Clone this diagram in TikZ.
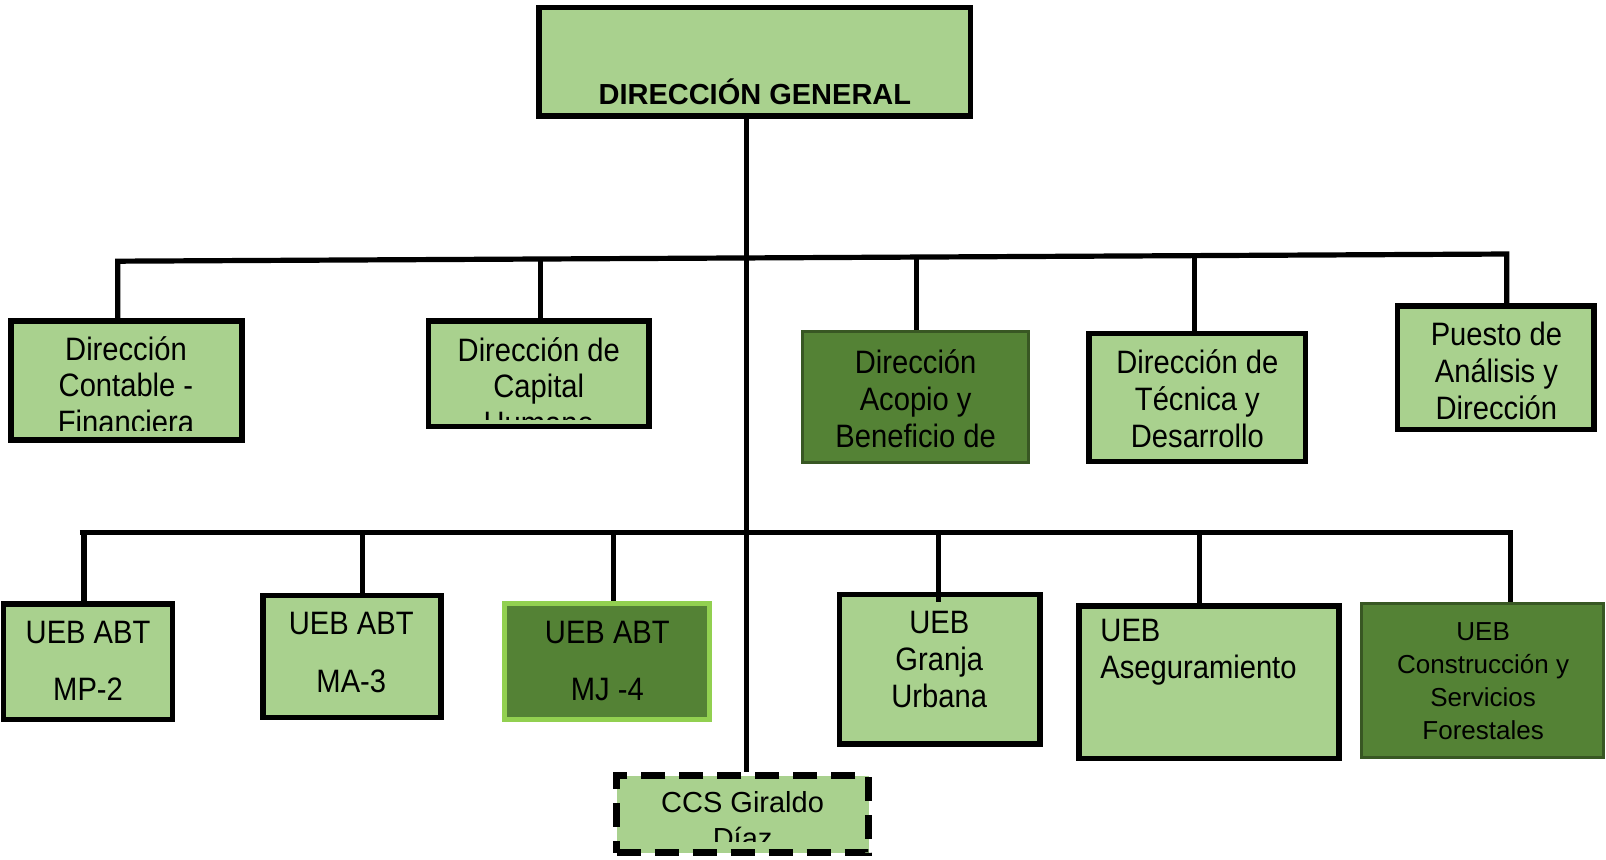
\documentclass[tikz,border=0pt]{standalone}
\usepackage{fontspec}
\setmainfont{Liberation Sans}[FakeStretch=0.9]
\newfontfamily\topfont{Liberation Sans}
\usetikzlibrary{fit,calc}
\definecolor{lgreen}{HTML}{A9D18E}
\definecolor{dgreen}{HTML}{548235}
\definecolor{dborder}{HTML}{385723}
\definecolor{bgreen}{HTML}{92D050}
\begin{document}
\begin{tikzpicture}[x=0.5121pt,y=-0.5121pt,
  box/.style={draw=black, line width=2.8pt, fill=lgreen, inner sep=0pt},
  dbox/.style={draw=dborder, line width=1.6pt, fill=dgreen, inner sep=0pt},
  hbox/.style={draw=bgreen, line width=2.6pt, fill=dgreen, inner sep=0pt},
  cbox/.style={draw=black, line width=3.4pt, fill=lgreen, inner sep=0pt, dash pattern=on 12pt off 7pt},
  link/.style={line width=2.6pt, draw=black},
  txt/.style={font=\fontsize{16.2pt}{18.4pt}\selectfont, align=center, inner sep=0pt},
]
\useasboundingbox (0,0) rectangle (1568,839);

% boxes
\node[box, fit={(526.5,7.5) (947.5,113.5)}] (top) {};
\node[box, fit={(10.5,313.5) (236.5,429.5)}] (A) {};
\node[box, fit={(418.5,313.5) (633.5,416.5)}] (B) {};
\node[dbox, fit={(783.5,323.5) (1004.5,451.5)}] (C) {};
\node[box, fit={(1063.5,325.5) (1274.5,450.5)}] (D) {};
\node[box, fit={(1364.5,298.5) (1556.5,419.5)}] (E) {};
\node[box, fit={(3.5,589.5) (168.5,702.5)}] (F) {};
\node[box, fit={(256.5,581.5) (430.5,700.5)}] (G) {};
\node[hbox, fit={(492.5,589.5) (692.5,702.5)}] (H) {};
\node[box, fit={(819.5,580.5) (1015.5,726.5)}] (I) {};
\node[box, fit={(1053.5,591.5) (1307.5,740.5)}] (J) {};
\node[dbox, fit={(1329.5,589.5) (1565.5,739.5)}] (K) {};
\node[cbox, fit={(602,757.5) (848,832.5)}] (L) {};

% texts
\node[anchor=base, inner sep=0pt, font=\topfont\bfseries\fontsize{14.5pt}{17pt}\selectfont] (tt) at (737,102) {DIRECCIÓN GENERAL};
\begin{scope}
  \clip (12,315) rectangle (235,420);
  \node[txt] (tA) at (123,376) {Dirección\\Contable -\\Financiera};
\end{scope}
\begin{scope}
  \clip (420,315) rectangle (632,410);
  \node[txt] (tB) at (526,377) {Dirección de\\Capital\\Humano};
\end{scope}
\node[txt] (tC) at (894,389) {Dirección\\Acopio y\\Beneficio de};
\node[txt] (tD) at (1169,389) {Dirección de\\Técnica y\\Desarrollo};
\node[txt] (tE) at (1461,362) {Puesto de\\Análisis y\\Dirección};
\node[txt] (tF) at (86,645) {UEB ABT\\[10.2pt]MP-2};
\node[txt] (tG) at (343,637) {UEB ABT\\[10.2pt]MA-3};
\node[txt] (tH) at (593,645) {UEB ABT\\[10.2pt]MJ -4};
\node[txt] (tI) at (917,644) {UEB\\Granja\\Urbana};
\node[txt, align=left, anchor=west] (tJ) at (1074,637) {UEB\\Aseguramiento};
\node[txt, font=\topfont\fontsize{13pt}{16.4pt}\selectfont] (tK) at (1448,665) {UEB\\Construcción y\\Servicios\\Forestales};
\begin{scope}
  \clip (604,760) rectangle (846,822);
  \node[txt, font=\topfont\fontsize{14.5pt}{18pt}\selectfont] (tL) at (725,801) {CCS Giraldo\\Díaz};
\end{scope}

% connectors
\coordinate (h2L) at (115,255);
\coordinate (h2R) at (1471,248);
\coordinate (m) at (729,300);
\path (h2L) -- (h2R)
  coordinate[pos=0.3046] (dB)
  coordinate[pos=0.5752] (dC)
  coordinate[pos=0.7751] (dD);
\draw[link] (A.north -| h2L) -- (h2L) -- (h2R) -- (E.north -| h2R);
\draw[link] (dB) -- (B.north -| dB);
\draw[link] (dC) -- (C.north -| dC);
\draw[link] (dD) -- (D.north -| dD);
\draw[link] (top.south -| m) -- (L.north -| m);

\coordinate (h3L) at (78,520);
\coordinate (h3R) at (1477,520);
\coordinate (dF) at (82,520);
\coordinate (dG) at (354,520);
\coordinate (dH) at (599,520);
\coordinate (dI) at (916,520);
\coordinate (dJ) at (1171,520);
\coordinate (dK) at (1475,520);
\draw[link] (h3L) -- (h3R);
\draw[link] (dF) -- (F.north -| dF);
\draw[link] (dG) -- (G.north -| dG);
\draw[link] (dH) -- (H.north -| dH);
\draw[link] (dI) -- ($(I.north -| dI)+(0,10)$);
\draw[link] (dJ) -- (J.north -| dJ);
\draw[link] (dK) -- (K.north -| dK);
\end{tikzpicture}
\end{document}
